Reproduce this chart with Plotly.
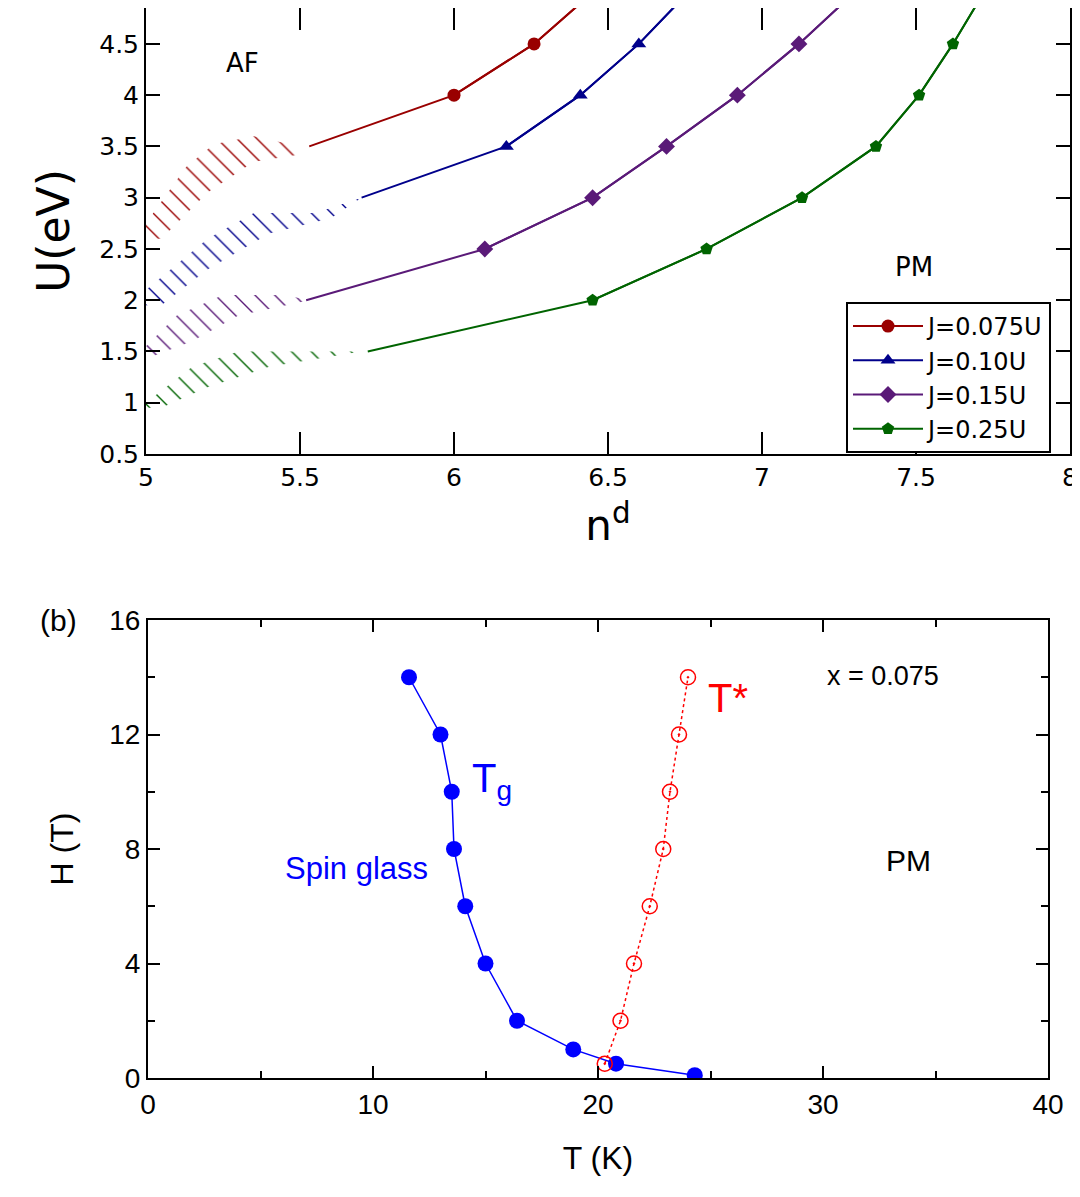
import plotly.graph_objects as go

# panel (a): U vs n^d
labels_a = ["J=0.075U", "J=0.10U", "J=0.15U", "J=0.25U"]
colors_a = ["#990000", "#00008b", "#5a1a78", "#006400"]
symbols_a = ["circle", "triangle-up", "diamond", "pentagon"]
n_line = [[5.53, 6.00, 6.26, 6.45],
          [5.70, 6.17, 6.41, 6.60, 6.76],
          [5.52, 6.10, 6.45, 6.69, 6.92, 7.12, 7.30],
          [5.72, 6.45, 6.82, 7.13, 7.37, 7.51, 7.62, 7.72]]
u_line = [[3.5, 4.0, 4.5, 5.0],
          [3.0, 3.5, 4.0, 4.5, 5.0],
          [2.0, 2.5, 3.0, 3.5, 4.0, 4.5, 5.0],
          [1.5, 2.0, 2.5, 3.0, 3.5, 4.0, 4.5, 5.0]]
# hatched coexistence bands (outline of each region)
band_n = [[5.0, 5.13, 5.22, 5.35, 5.5, 5.5, 5.35, 5.2, 5.05, 5.0],
          [5.0, 5.2, 5.35, 5.55, 5.7, 5.6, 5.4, 5.2, 5.05, 5.0],
          [5.0, 5.1, 5.25, 5.45, 5.53, 5.45, 5.3, 5.15, 5.02, 5.0],
          [5.0, 5.15, 5.3, 5.5, 5.7, 5.6, 5.4, 5.2, 5.05, 5.0]]
band_u = [[2.75, 3.3, 3.52, 3.6, 3.5, 3.42, 3.35, 3.05, 2.6, 2.6],
          [2.1, 2.6, 2.85, 2.85, 3.0, 2.8, 2.65, 2.3, 1.95, 1.95],
          [1.55, 1.85, 2.05, 2.05, 2.0, 1.95, 1.85, 1.6, 1.45, 1.45],
          [1.0, 1.35, 1.5, 1.5, 1.5, 1.45, 1.35, 1.15, 0.95, 0.95]]

# panel (b): H vs T
tg_T = [11.6, 13.0, 13.5, 13.6, 14.1, 15.0, 16.4, 18.9, 20.8, 24.3]
tg_H = [14, 12, 10, 8, 6, 4, 2, 1, 0.5, 0.1]
ts_T = [20.3, 21.0, 21.6, 22.3, 22.9, 23.2, 23.6, 24.0]
ts_H = [0.5, 2, 4, 6, 8, 10, 12, 14]

W, H = 1080, 1197
fig = go.Figure()

for i in range(4):
    fig.add_trace(go.Scatter(
        x=band_n[i], y=band_u[i], mode="lines", fill="toself",
        line=dict(width=0), fillcolor="rgba(0,0,0,0)",
        fillpattern=dict(shape="\\", fgcolor=colors_a[i], bgcolor="rgba(0,0,0,0)",
                         fgopacity=1, size=14, solidity=0.1),
        showlegend=False, hoverinfo="skip", xaxis="x", yaxis="y"))
for i in range(4):
    fig.add_trace(go.Scatter(
        x=n_line[i], y=u_line[i], mode="lines", line=dict(color=colors_a[i], width=2),
        showlegend=False, xaxis="x", yaxis="y"))
    fig.add_trace(go.Scatter(
        x=n_line[i][1:], y=u_line[i][1:], mode="lines+markers", name=labels_a[i],
        line=dict(color=colors_a[i], width=2),
        marker=dict(symbol=symbols_a[i], size=13, color=colors_a[i]),
        xaxis="x", yaxis="y"))

fig.add_trace(go.Scatter(x=tg_T, y=tg_H, mode="lines+markers",
                         line=dict(color="#0000ff", width=1.5),
                         marker=dict(size=16, color="#0000ff"),
                         showlegend=False, xaxis="x2", yaxis="y2"))
fig.add_trace(go.Scatter(x=ts_T, y=ts_H, mode="lines+markers",
                         line=dict(color="#ff0000", width=1.5, dash="dot"),
                         marker=dict(size=15, color="#ff0000", symbol="circle-open-dot",
                                     line=dict(color="#ff0000", width=1.5)),
                         showlegend=False, xaxis="x2", yaxis="y2"))

fa = dict(family="DejaVu Sans", size=25, color="black")
fb = dict(family="Liberation Sans", size=28, color="black")
common = dict(showgrid=False, zeroline=False, showline=True, linecolor="black",
              linewidth=2, ticks="inside", tickcolor="black", tickwidth=2, mirror="ticks",
              automargin=False)

fig.update_layout(
    width=W, height=H, margin=dict(l=0, r=0, t=0, b=0),
    plot_bgcolor="white", paper_bgcolor="white",
    xaxis=dict(domain=[138 / W, 1062 / W], range=[5, 8], dtick=0.5, ticklen=22,
               tickfont=fa, anchor="y",
               title=dict(text="n<sup>d</sup>", font=dict(family="DejaVu Sans", size=42, color="black"),
                          standoff=20),
               **common),
    yaxis=dict(domain=[1 - 446 / H, 1], range=[0.5, 4.85], dtick=0.5, ticklen=14,
               tickfont=fa, anchor="x",
               title=dict(text="U(eV)", font=dict(family="DejaVu Sans", size=44, color="black"),
                          standoff=16),
               **common),
    xaxis2=dict(domain=[140 / W, 1040 / W], range=[0, 40], dtick=10, ticklen=12,
                tickfont=fb, anchor="y2",
                minor=dict(dtick=5, ticks="inside", ticklen=7, tickcolor="black"),
                title=dict(text="T (K)", font=dict(family="Liberation Sans", size=32, color="black"),
                           standoff=28),
                **common),
    yaxis2=dict(domain=[1 - 1070 / H, 1 - 612 / H], range=[0, 16], dtick=4, ticklen=12,
                tickfont=fb, anchor="x2",
                minor=dict(dtick=2, ticks="inside", ticklen=7, tickcolor="black"),
                title=dict(text="H (T)", font=dict(family="Liberation Sans", size=32, color="black"),
                           standoff=26),
                **common),
    legend=dict(x=1043 / W, y=1 - 294 / H, xanchor="right", yanchor="top",
                bgcolor="white", bordercolor="black", borderwidth=2,
                font=dict(family="DejaVu Sans", size=24, color="black"),
                itemwidth=70, tracegroupgap=0),
)

def note(text, x, y, font, color="black"):
    fig.add_annotation(text=text, x=x / W, y=1 - y / H, xref="paper", yref="paper",
                       showarrow=False, font=dict(color=color, **font))

note("AF", 216, 38, dict(family="DejaVu Sans", size=26))
note("PM", 927, 242, dict(family="DejaVu Sans", size=26))
note("(b)", 30, 612, dict(family="Liberation Sans", size=30))
note("x = 0.075", 933, 668, dict(family="Liberation Sans", size=27))
note("PM", 925, 871, dict(family="Liberation Sans", size=30))
note("Spin glass", 275, 880, dict(family="Liberation Sans", size=31), "#0000ff")
note("T<sub>g</sub>", 484, 800, dict(family="Liberation Sans", size=40), "#0000ff")
note("T*", 720, 690, dict(family="Liberation Sans", size=40), "#ff0000")

fig.write_html("out.html")
